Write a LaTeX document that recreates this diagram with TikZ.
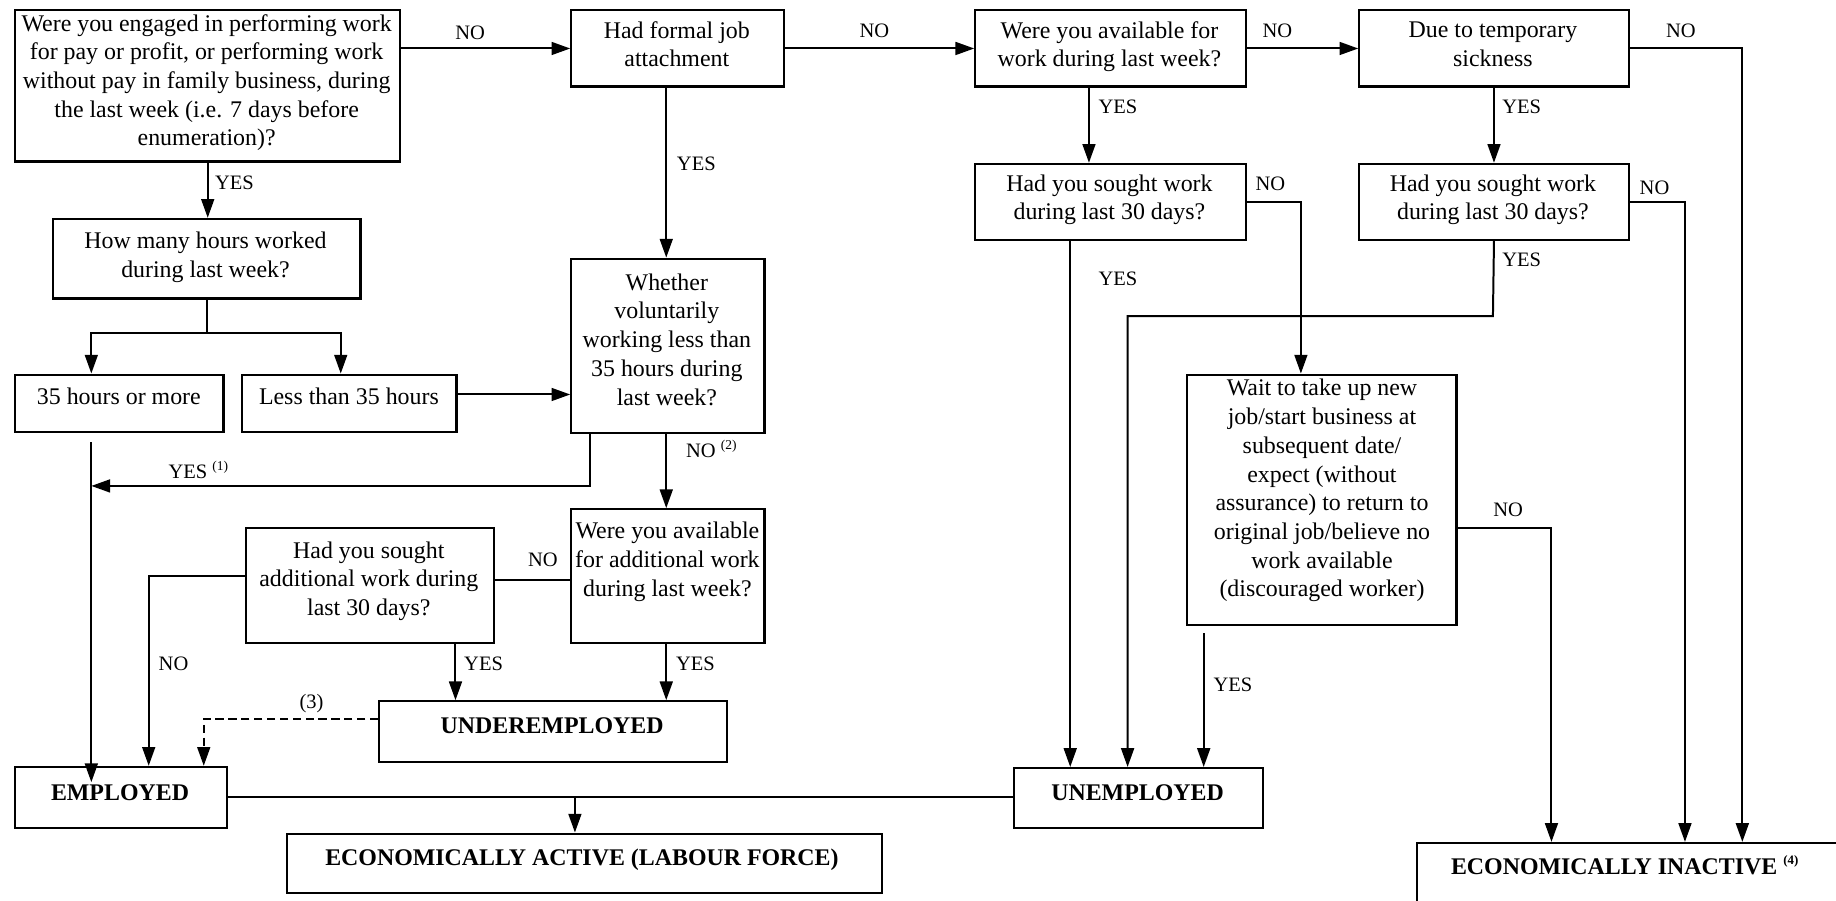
\documentclass[tikz,border=0pt]{standalone}
\usepackage{fontspec}
\setmainfont{Liberation Serif}
\usetikzlibrary{arrows.meta}
\tikzset{
  box/.style={draw, line width=1.8pt, inner sep=0pt, anchor=north west},
  txt/.style={align=center, inner sep=0pt, font=\fontsize{20.4}{24.5}\selectfont,
    execute at begin node=\strut, execute at end node=\strut, yshift=-3pt},
  lbl/.style={inner sep=0pt, font=\fontsize{17.5}{20}\selectfont},
  conn/.style={line width=1.7pt},
  arr/.style={conn, -{Triangle[length=16pt,width=11pt]}},
  dsh/.style={arr, dash pattern=on 7pt off 4pt},
}
\newcommand{\supmark}[1]{\raisebox{7pt}{\fontsize{11.5}{12}\selectfont #1}}
\begin{document}
\begin{tikzpicture}[x=1pt,y=-1pt]
\useasboundingbox (0,0) rectangle (1568,769);
\fill[white] (0,0) rectangle (1568,769);
\clip (0,0) rectangle (1568,769);
% ---------- boxes ----------
\node[box, minimum width=329pt, minimum height=129pt] (q1) at (12,8) {};
\node[box, minimum width=182pt, minimum height=65pt] (formal) at (487,8) {};
\node[box, minimum width=231pt, minimum height=65pt] (avail) at (832,8) {};
\node[box, minimum width=230pt, minimum height=65pt] (sick) at (1160,8) {};
\node[box, minimum width=263pt, minimum height=68pt] (hours) at (44,186) {};
\node[box, minimum width=231pt, minimum height=65pt] (sought1) at (832,139) {};
\node[box, minimum width=230pt, minimum height=65pt] (sought2) at (1160,139) {};
\node[box, minimum width=178pt, minimum height=49pt] (more35) at (12,319) {};
\node[box, minimum width=183pt, minimum height=49pt] (less35) at (206,319) {};
\node[box, minimum width=165pt, minimum height=149pt] (whether) at (487,220) {};
\node[box, minimum width=230pt, minimum height=214pt] (wait) at (1013,319) {};
\node[box, minimum width=165pt, minimum height=114pt] (availadd) at (487,434) {};
\node[box, minimum width=212pt, minimum height=98pt] (soughtadd) at (209,450) {};
\node[box, minimum width=297pt, minimum height=52pt] (under) at (323,598) {};
\node[box, minimum width=181pt, minimum height=52pt] (employed) at (12,654) {};
\node[box, minimum width=508pt, minimum height=51pt] (active) at (244,711) {};
\node[box, minimum width=213pt, minimum height=51pt] (unemployed) at (865,655) {};
\node[box, minimum width=420pt, minimum height=120pt] (inactive) at (1209,719) {};
% ---------- texts ----------
\node[txt] (q1t) at (176.5,69) {Were you engaged in performing work\\for pay or profit, or performing work\\without pay in family business, during\\the last week (i.e. 7 days before\\enumeration)?};
\node[txt] (formalt) at (578,38.3) {Had formal job\\attachment};
\node[txt] (availt) at (947.5,38.3) {Were you available for\\work during last week?};
\node[txt] (sickt) at (1275,38.3) {Due to temporary\\sickness};
\node[txt] (hourst) at (175.5,218.2) {How many hours worked\\during last week?};
\node[txt] (sought1t) at (947.5,169) {Had you sought work\\during last 30 days?};
\node[txt] (sought2t) at (1275,169) {Had you sought work\\during last 30 days?};
\node[txt] (more35t) at (101.5,337.3) {35 hours or more};
\node[txt] (less35t) at (298,337.3) {Less than 35 hours};
\node[txt] (whethert) at (569.5,290.5) {Whether\\voluntarily\\working less than\\35 hours during\\last week?};
\node[txt] (waitt) at (1129,417.5) {Wait to take up new\\job/start business at\\subsequent date/\\expect (without\\assurance) to return to\\original job/believe no\\work available\\(discouraged worker)};
\node[txt] (availaddt) at (570,478.2) {Were you available\\for additional work\\during last week?};
\node[txt] (soughtaddt) at (315,494.7) {Had you sought\\additional work during\\last 30 days?};
\node[txt, font=\fontsize{20.4}{24.5}\selectfont\bfseries] (undert) at (471.5,618.6) {UNDEREMPLOYED};
\node[txt, font=\fontsize{20.4}{24.5}\selectfont\bfseries] (employedt) at (102.5,675.5) {EMPLOYED};
\node[txt, font=\fontsize{20.4}{24.5}\selectfont\bfseries] (activet) at (497,731.6) {ECONOMICALLY ACTIVE (LABOUR FORCE)};
\node[txt, font=\fontsize{20.4}{24.5}\selectfont\bfseries] (unemployedt) at (971.5,676) {UNEMPLOYED};
\node[inner sep=0pt, anchor=base west, font=\fontsize{20.4}{24.5}\selectfont\bfseries] (inactivet) at (1239,746.5) {ECONOMICALLY INACTIVE \raisebox{8pt}{\fontsize{11}{12}\selectfont\bfseries (4)}};
% ---------- connectors: top row ----------
\draw[arr] (q1.east |- formal.west) -- (formal.west);
\draw[arr] (formal.east) -- (avail.west);
\draw[arr] (avail.east) -- (sick.west);
\draw[arr] (sick.east) -| ([xshift=279pt]inactive.north west);
\draw[arr] (sick.south) -- (sought2.north);
\draw[arr] ([xshift=98pt]avail.south west) -- ([xshift=98pt]sought1.north west);
\draw[arr] (sought1.east) -| ([xshift=98pt]wait.north west);
\draw[arr] (sought2.east) -| ([xshift=230pt]inactive.north west);
\coordinate (yj) at (1275,270);
\draw[arr] (sought2.south) -- (yj) -| ([xshift=98pt]unemployed.north west);
\draw[arr] ([xshift=82pt]sought1.south west) -- ([xshift=49pt]unemployed.north west);
\draw[arr] ([xshift=15pt,yshift=-6pt]wait.south west) -- ([xshift=163pt]unemployed.north west);
\draw[arr] ([yshift=-24pt]wait.east) -| ([xshift=116pt]inactive.north west);
% ---------- connectors: left part ----------
\draw[arr] (q1.south) -- (q1.south |- hours.north);
\coordinate (hs) at (hours.south |- 0,284);
\draw[conn] (hours.south) -- (hs);
\draw[arr] (hs) -| ([xshift=66pt]more35.north west);
\draw[arr] (hs) -| ([xshift=85pt]less35.north west);
\draw[arr] ([xshift=66pt,yshift=-8pt]more35.south west) -- ([xshift=66pt,yshift=-14pt]employed.north west);
\coordinate (l35) at ([yshift=7.5pt]less35.east);
\draw[arr] (l35) -- (l35 -| whether.west);
\draw[arr] ([xshift=82pt]formal.south west) -- ([xshift=82pt]whether.north west);
\coordinate (y1end) at (78,415);
\draw[arr] ([xshift=17pt]whether.south west) |- (y1end);
\draw[arr] ([xshift=82pt]whether.south west) -- ([xshift=82pt]availadd.north west);
\draw[conn] (availadd.west |- 0,495) -- (soughtadd.east |- 0,495);
\draw[arr] (soughtadd.west |- 0,492) -| ([xshift=115pt]employed.north west);
\coordinate (sy) at ([xshift=180pt]soughtadd.south west);
\draw[arr] (sy) -- (sy |- under.north);
\coordinate (ay) at ([xshift=82pt]availadd.south west);
\draw[arr] (ay) -- (ay |- under.north);
\draw[dsh] (under.west |- 0,614) -| ([xshift=162pt]employed.north west);
\draw[conn] (employed.east) -- (employed.east -| unemployed.west);
\draw[arr] (employed.east -| 491,0) -- (active.north -| 491,0);
% ---------- labels ----------
\node[lbl] (n1) at (401.5,27.6) {NO};
\node[lbl] (n2) at (746.8,26.2) {NO};
\node[lbl] (n3) at (1091,26.2) {NO};
\node[lbl] (n4) at (1435.5,26.2) {NO};
\node[lbl] (y2) at (954.8,91.6) {YES};
\node[lbl] (y3) at (1299.6,91.6) {YES};
\node[lbl] (n5) at (1085,157) {NO};
\node[lbl] (n6) at (1413,160.3) {NO};
\node[lbl] (y4) at (1299.6,222) {YES};
\node[lbl] (y5) at (954.8,238.3) {YES};
\node[lbl] (y6) at (594.7,140) {YES};
\node[lbl] (y7) at (200.2,156.5) {YES};
\node[lbl, anchor=base west] (y1) at (143.8,408.5) {YES \supmark{(1)}};
\node[lbl, anchor=base west] (n7) at (585.8,391) {NO \supmark{(2)}};
\node[lbl] (n8) at (463.6,478.2) {NO};
\node[lbl] (n9) at (148.2,567.3) {NO};
\node[lbl] (y8) at (413,567.3) {YES};
\node[lbl] (y9) at (594,567.3) {YES};
\node[lbl] (f3) at (266,600.6) {(3)};
\node[lbl] (y10) at (1053,585) {YES};
\node[lbl] (n10) at (1288,435.5) {NO};
\end{tikzpicture}
\end{document}
